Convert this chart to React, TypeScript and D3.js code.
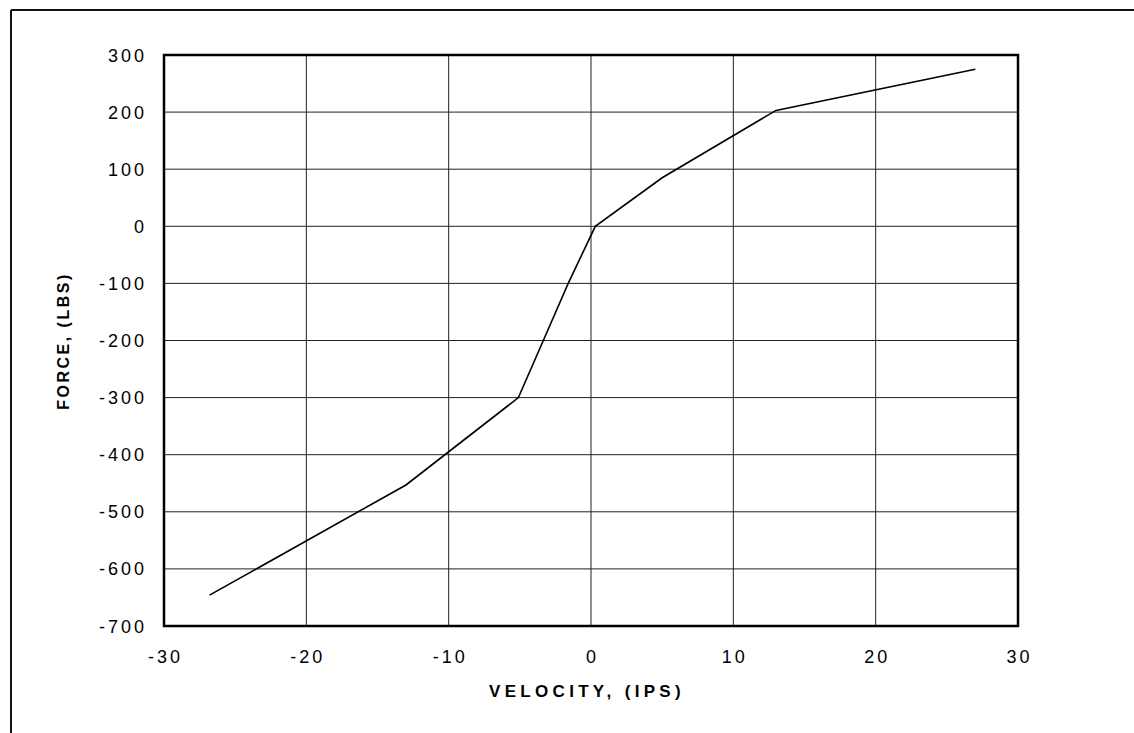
import React from "react";
import * as d3 from "d3";

const velocity = [-26.8, -13.0, -5.1, -3.35, -1.6, 0.3, 5.0, 13.0, 27.0];
const force = [-646, -453, -300, -200, -100, 0, 85, 203, 275];
const xTicks = [-30, -20, -10, 0, 10, 20, 30];
const yTicks = [300, 200, 100, 0, -100, -200, -300, -400, -500, -600, -700];
const xTitle = "VELOCITY, (IPS)";
const yTitle = "FORCE, (LBS)";

const W = 1134;
const H = 733;
const left = 164;
const right = 1018;
const top = 55;
const bottom = 626;

export default function App() {
  const x = d3.scaleLinear().domain([-30, 30]).range([left, right]);
  const y = d3.scaleLinear().domain([-700, 300]).range([bottom, top]);
  const pts: [number, number][] = velocity.map((v, i) => [v, force[i]]);
  const line = d3
    .line<[number, number]>()
    .x((d) => x(d[0]))
    .y((d) => y(d[1]));
  const font = "'Liberation Sans', Arial, Helvetica, sans-serif";
  return (
    <svg
      width={W}
      height={H}
      style={{ position: "absolute", left: 0, top: 0, background: "#fff" }}
    >
      <rect x={0} y={0} width={W} height={H} fill="#fff" />
      {/* outer frame */}
      <line x1={11} y1={10} x2={W} y2={10} stroke="#111" strokeWidth={2} />
      <line x1={11} y1={10} x2={11} y2={H} stroke="#111" strokeWidth={2} />
      {/* grid */}
      {xTicks.slice(1, -1).map((t) => (
        <line
          key={"gx" + t}
          x1={x(t)}
          x2={x(t)}
          y1={top}
          y2={bottom}
          stroke="#222"
          strokeWidth={1}
        />
      ))}
      {yTicks.slice(1, -1).map((t) => (
        <line
          key={"gy" + t}
          x1={left}
          x2={right}
          y1={y(t)}
          y2={y(t)}
          stroke="#222"
          strokeWidth={1}
        />
      ))}
      {/* plot border */}
      <rect
        x={left}
        y={top}
        width={right - left}
        height={bottom - top}
        fill="none"
        stroke="#000"
        strokeWidth={2.5}
      />
      {/* curve */}
      <path d={line(pts) || ""} fill="none" stroke="#000" strokeWidth={1.6} />
      {/* y tick labels */}
      {yTicks.map((t) => (
        <text
          key={"yl" + t}
          x={144 + 3}
          y={y(t) + 6.5}
          textAnchor="end"
          fontFamily={font}
          fontSize={18}
          letterSpacing={3}
          fill="#000"
        >
          {t}
        </text>
      ))}
      {/* x tick labels */}
      {xTicks.map((t) => (
        <text
          key={"xl" + t}
          x={x(t) + 1.5}
          y={663}
          textAnchor="middle"
          fontFamily={font}
          fontSize={18}
          letterSpacing={3}
          fill="#000"
        >
          {t}
        </text>
      ))}
      <text
        x={x(0) - 4}
        y={697}
        textAnchor="middle"
        fontFamily={font}
        fontSize={17}
        fontWeight="bold"
        letterSpacing={4.3}
        fill="#000"
      >
        {xTitle}
      </text>
      <text
        transform={`translate(69, ${341}) rotate(-90)`}
        textAnchor="middle"
        fontFamily={font}
        fontSize={16}
        fontWeight="bold"
        letterSpacing={2.5}
        fill="#000"
      >
        {yTitle}
      </text>
    </svg>
  );
}
